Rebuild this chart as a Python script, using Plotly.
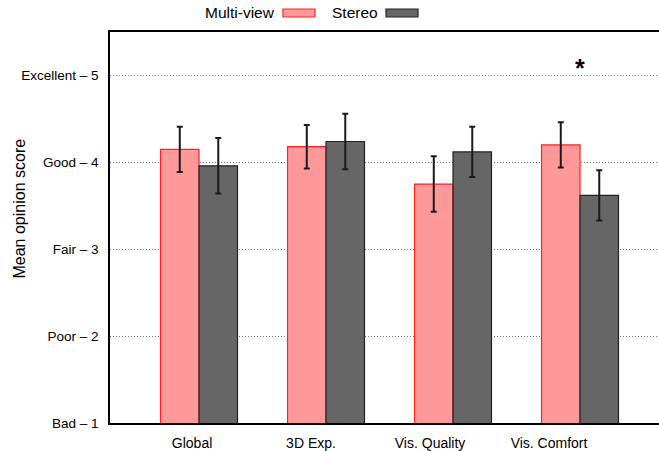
import plotly.graph_objects as go

# Survey results: mean opinion score per criterion, with error bars
categories = ["Global", "3D Exp.", "Vis. Quality", "Vis. Comfort"]
multiview_mean = [4.15, 4.18, 3.75, 4.20]
multiview_err = [0.26, 0.25, 0.32, 0.26]
stereo_mean = [3.96, 4.24, 4.12, 3.62]
stereo_err = [0.32, 0.32, 0.29, 0.29]
score_ticks = [1, 2, 3, 4, 5]
score_labels = ["Bad – 1", "Poor – 2", "Fair – 3", "Good – 4", "Excellent – 5"]
significant = [False, False, False, True]

W, H = 659, 451
ML, MR, MT, MB = 110, 0, 32, 28
PW, PH = W - ML - MR, H - MT - MB
FONT = "Liberation Sans, Arial, sans-serif"


def px(x):
    """Figure pixel x -> paper coordinate."""
    return (x - ML) / PW


def py(y):
    """Figure pixel y (from top) -> paper coordinate."""
    return (H - MB - y) / PH


idx = list(range(len(categories)))
# category labels sit on a slightly tighter pitch than the bar groups
label_pos = [-0.055 + 0.937 * i for i in idx]

fig = go.Figure()
fig.add_trace(go.Bar(
    x=idx, y=multiview_mean, name="Multi-view",
    marker=dict(color="#ff9999", line=dict(color="#ff2020", width=1.2)),
    error_y=dict(type="data", array=multiview_err, color="#1a1a1a",
                 thickness=2, width=3),
))
fig.add_trace(go.Bar(
    x=idx, y=stereo_mean, name="Stereo",
    marker=dict(color="#666666", line=dict(color="#222222", width=1.2)),
    error_y=dict(type="data", array=stereo_err, color="#1a1a1a",
                 thickness=2, width=3),
))

# significance markers
for i, sig in enumerate(significant):
    if sig:
        fig.add_annotation(x=i, y=5.08, xref="x", yref="y", text="<b>*</b>",
                           showarrow=False, font=dict(size=25, color="black",
                                                      family=FONT))

# legend drawn gnuplot-style: label first, swatch to the right
legend_items = [("Multi-view", 277, 283, "#ff9999", "#ff2020"),
                ("Stereo", 380, 386, "#666666", "#222222")]
for text, tx, bx, fill, edge in legend_items:
    fig.add_annotation(x=px(tx), y=py(13), xref="paper", yref="paper",
                       text=text, showarrow=False, xanchor="right",
                       yanchor="middle",
                       font=dict(size=15.5, color="black", family=FONT))
    fig.add_shape(type="rect", xref="paper", yref="paper",
                  x0=px(bx), x1=px(bx + 32),
                  y0=py(17), y1=py(9),
                  fillcolor=fill, line=dict(color=edge, width=1.2))

# y-axis title
fig.add_annotation(x=px(18.5), y=py(209), xref="paper", yref="paper",
                   text="Mean opinion score", textangle=-90, showarrow=False,
                   xanchor="center", yanchor="middle",
                   font=dict(size=16, color="black", family=FONT))

fig.update_layout(
    width=W, height=H,
    margin=dict(l=ML, r=MR, t=MT, b=MB),
    paper_bgcolor="white", plot_bgcolor="white",
    barmode="group", bargap=0.394, bargroupgap=0,
    showlegend=False,
    font=dict(family=FONT, size=12, color="black"),
    xaxis=dict(
        range=[-0.701, 3.622],
        tickmode="array", tickvals=label_pos, ticktext=categories,
        ticks="", showgrid=False, zeroline=False,
        showline=True, linecolor="black", linewidth=1.5, mirror=True,
        tickfont=dict(size=14), ticklabelstandoff=6,
    ),
    yaxis=dict(
        range=[1, 5.5],
        tickmode="array", tickvals=score_ticks, ticktext=score_labels,
        ticks="", showgrid=True, gridcolor="#777777", griddash="1px,2px",
        gridwidth=1, zeroline=False,
        showline=True, linecolor="black", linewidth=1.5, mirror=False,
        tickfont=dict(size=13.5), ticklabelstandoff=7,
    ),
)

fig.write_html("out.html")
